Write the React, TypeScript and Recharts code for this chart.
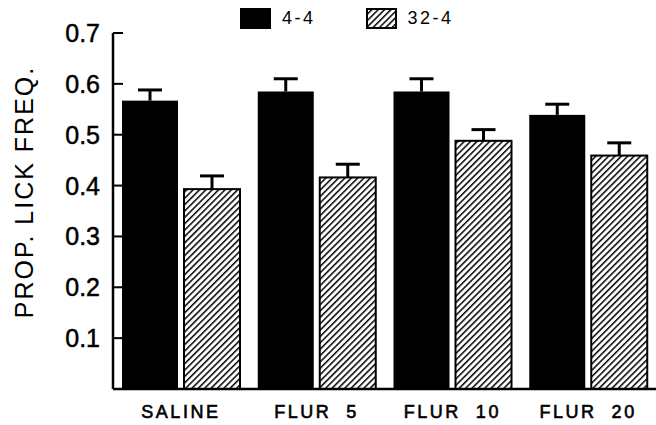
import { BarChart, Bar, XAxis, YAxis } from "recharts";

const categories = ["SALINE", "FLUR  5", "FLUR  10", "FLUR  20"];
const mean44 = [0.567, 0.585, 0.585, 0.539];
const sem44 = [0.021, 0.025, 0.025, 0.021];
const mean324 = [0.393, 0.416, 0.488, 0.459];
const sem324 = [0.026, 0.026, 0.022, 0.025];
const yTicks = [0.1, 0.2, 0.3, 0.4, 0.5, 0.6, 0.7];

const FONT = '"Liberation Sans", Arial, Helvetica, sans-serif';

const data = categories.map((name, i) => ({
  name,
  g44: mean44[i],
  e44: sem44[i],
  g324: mean324[i],
  e324: sem324[i],
}));

// bar + upward-only SEM whisker; whisker length scaled from the bar's own pixel height
function barWithError(valueKey: string, errKey: string) {
  return (props: any) => {
    const { x, y, width, height, fill, stroke, strokeWidth, payload } = props;
    const perUnit = height / payload[valueKey];
    const e = payload[errKey] * perUnit;
    const cx = x + width / 2;
    return (
      <g>
        <rect
          x={x}
          y={y}
          width={width}
          height={height}
          fill={fill}
          stroke={stroke}
          strokeWidth={strokeWidth}
        />
        <line x1={cx} x2={cx} y1={y} y2={y - e} stroke="#000" strokeWidth={3} />
        <line x1={cx - 12} x2={cx + 12} y1={y - e} y2={y - e} stroke="#000" strokeWidth={3} />
      </g>
    );
  };
}

function YTick({ x, y, payload }: any) {
  return (
    <g>
      <line x1={x} x2={x + 10} y1={y} y2={y} stroke="#000" strokeWidth={2} />
      <text
        x={x - 13}
        y={y}
        dy={9}
        textAnchor="end"
        fontSize={25}
        fontFamily={FONT}
        fill="#000"
        stroke="#000"
        strokeWidth={0.5}
      >
        {Number(payload.value).toFixed(1)}
      </text>
    </g>
  );
}

function XTick({ x, y, payload }: any) {
  return (
    <text
      x={x}
      y={y}
      dy={29}
      textAnchor="middle"
      fontSize={18}
      letterSpacing={2.5}
      fontFamily={FONT}
      fill="#000"
      stroke="#000"
      strokeWidth={0.6}
      style={{ whiteSpace: "pre" }}
    >
      {payload.value}
    </text>
  );
}

function YLabel({ viewBox }: any) {
  const cx = viewBox.x + 33;
  const cy = viewBox.y + viewBox.height / 2 - 19;
  return (
    <text
      transform={`translate(${cx}, ${cy}) rotate(-90)`}
      textAnchor="middle"
      fontSize={25}
      letterSpacing={2}
      fontFamily={FONT}
      fill="#000"
    >
      PROP. LICK FREQ.
    </text>
  );
}

function Swatch({ hatched }: { hatched?: boolean }) {
  return (
    <svg width={31} height={21} style={{ display: "block" }}>
      <rect
        x={1}
        y={1}
        width={29}
        height={19}
        fill={hatched ? "url(#hatch)" : "#000"}
        stroke="#000"
        strokeWidth={2}
      />
    </svg>
  );
}

export default function App() {
  return (
    <div
      style={{
        position: "absolute",
        left: 0,
        top: 0,
        width: 656,
        height: 425,
        background: "#fff",
      }}
    >
      <svg width={0} height={0} style={{ position: "absolute" }}>
        <defs>
          <pattern
            id="hatch"
            patternUnits="userSpaceOnUse"
            width={4.5}
            height={4.5}
            patternTransform="rotate(45)"
          >
            <rect width={4.5} height={4.5} fill="#fff" />
            <line x1={0} y1={0} x2={0} y2={4.5} stroke="#000" strokeWidth={3} />
          </pattern>
        </defs>
      </svg>

      <div
        style={{
          position: "absolute",
          top: 8,
          left: 240,
          display: "flex",
          alignItems: "center",
          fontFamily: FONT,
          fontSize: 18,
          letterSpacing: 2.5,
          color: "#000",
        }}
      >
        <Swatch />
        <span style={{ marginLeft: 11, lineHeight: "21px" }}>4-4</span>
        <span style={{ width: 50 }} />
        <Swatch hatched />
        <span style={{ marginLeft: 11, lineHeight: "21px" }}>32-4</span>
      </div>

      <BarChart
        width={656}
        height={425}
        data={data}
        margin={{ top: 33, right: 0, bottom: 0, left: 0 }}
        barCategoryGap={9}
        barGap={6}
      >
        <XAxis
          dataKey="name"
          height={36}
          axisLine={{ stroke: "#000", strokeWidth: 2.5 }}
          tickLine={false}
          tickSize={0}
          tickMargin={0}
          tick={<XTick />}
          interval={0}
        />
        <YAxis
          width={113}
          domain={[0, 0.7]}
          ticks={yTicks}
          axisLine={{ stroke: "#000", strokeWidth: 2.5 }}
          tickLine={false}
          tickSize={0}
          tickMargin={0}
          tick={<YTick />}
          label={<YLabel />}
        />
        <Bar
          dataKey="g44"
          fill="#000"
          shape={barWithError("g44", "e44")}
          isAnimationActive={false}
        />
        <Bar
          dataKey="g324"
          fill="url(#hatch)"
          stroke="#000"
          strokeWidth={2}
          shape={barWithError("g324", "e324")}
          isAnimationActive={false}
        />
      </BarChart>
    </div>
  );
}
